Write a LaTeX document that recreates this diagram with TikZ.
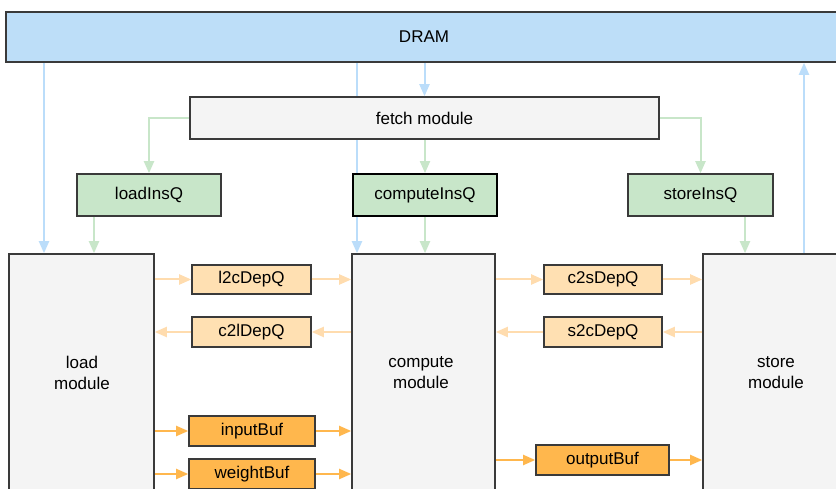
\documentclass[tikz,border=0pt]{standalone}
\usepackage{fontspec}
\setmainfont{Liberation Sans}
\usetikzlibrary{arrows.meta,backgrounds}

\definecolor{dramblue}{HTML}{BDDEF8}
\definecolor{bluearrow}{HTML}{BBDDFA}
\definecolor{insgreen}{HTML}{C8E6C9}
\definecolor{greenarrow}{HTML}{C8E6C9}
\definecolor{modgray}{HTML}{F4F4F4}
\definecolor{depfill}{HTML}{FFE0B2}
\definecolor{deparrow}{HTML}{FFDCAE}
\definecolor{buffill}{HTML}{FFB74D}
\definecolor{bufarrow}{HTML}{FFB74D}
\definecolor{edgegray}{HTML}{3A3A3A}

\begin{document}
\begin{tikzpicture}[x=1pt,y=-1pt,
  font=\fontsize{17}{21}\selectfont,
  box/.style={draw=edgegray, line width=1.6pt, inner sep=0pt, align=center},
  dram/.style={box, fill=dramblue},
  plainbox/.style={box, fill=modgray},
  insq/.style={box, fill=insgreen},
  depq/.style={box, fill=depfill},
  buf/.style={box, fill=buffill},
  conn/.style={line width=2pt, -{Triangle[length=12pt,width=10pt]}},
  bluearr/.style={conn, draw=bluearrow},
  greenarr/.style={conn, draw=greenarrow},
  deparr/.style={conn, draw=deparrow},
  bufarr/.style={conn, draw=bufarrow}]

\clip (0,0) rectangle (836,489);

% memory and fetch stage
\node[dram, minimum width=836pt, minimum height=50pt] (dram) at (424,37) {DRAM};
\node[plainbox, minimum width=469pt, minimum height=42pt] (fetch) at (424.5,118) {fetch module};

% instruction queues
\node[insq, minimum width=144pt, minimum height=42pt] (loadq) at (149,195) {loadInsQ};
\node[insq, draw=black, line width=1.8pt, minimum width=144pt, minimum height=42pt] (computeq) at (425,195) {computeInsQ};
\node[insq, minimum width=145pt, minimum height=42pt] (storeq) at (700.5,195) {storeInsQ};

% the three execution modules
\node[plainbox, minimum width=145pt, minimum height=270pt] (load) at (81.5,389) {};
\node[plainbox, minimum width=143pt, minimum height=270pt] (compute) at (423.5,389) {};
\node[plainbox, minimum width=145pt, minimum height=270pt] (store) at (775.5,389) {};
\node (loadtxt) at (82,373) [align=center] {load\\module};
\node (computetxt) at (421,373) [align=center] {compute\\module};
\node (storetxt) at (776,373) [align=center] {store\\module};

% dependency queues
\node[depq, minimum width=119pt, minimum height=29pt] (l2c) at (251.5,279.5) {l2cDepQ};
\node[depq, minimum width=119pt, minimum height=30pt] (c2l) at (251.5,332) {c2lDepQ};
\node[depq, minimum width=118pt, minimum height=29pt] (c2s) at (603,279.5) {c2sDepQ};
\node[depq, minimum width=118pt, minimum height=30pt] (s2c) at (603,332) {s2cDepQ};

% buffers
\node[buf, minimum width=126pt, minimum height=30pt] (inbuf) at (252,431) {inputBuf};
\node[buf, minimum width=126pt, minimum height=30pt] (wbuf) at (252,474) {weightBuf};
\node[buf, minimum width=133pt, minimum height=30pt] (outbuf) at (602.5,460) {outputBuf};

% x positions of the vertical data paths
\coordinate (xload) at (44,0);
\coordinate (xcomp) at (357,0);
\coordinate (xloadq) at (94,0);
\coordinate (xstoreq) at (745,0);
\coordinate (xstore) at (804,0);

% white page, and DRAM to compute passing behind fetch and computeInsQ
\begin{scope}[on background layer]
  \fill[white] (0,0) rectangle (836,489);
  \draw[bluearr] (dram.south -| xcomp) -- (compute.north -| xcomp);
\end{scope}

% DRAM traffic
\draw[bluearr] (dram.south -| xload) -- (load.north -| xload);
\draw[bluearr] (fetch.north |- dram.south) -- (fetch.north);
\draw[bluearr] (store.north -| xstore) -- (dram.south -| xstore);

% instruction dispatch
\draw[greenarr] (fetch.west) -| (loadq.north);
\draw[greenarr] (fetch.east) -| (storeq.north);
\draw[greenarr] (computeq.north |- fetch.south) -- (computeq.north);
\draw[greenarr] (loadq.south -| xloadq) -- (load.north -| xloadq);
\draw[greenarr] (computeq.south) -- (computeq.south |- compute.north);
\draw[greenarr] (storeq.south -| xstoreq) -- (store.north -| xstoreq);

% dependency tokens
\draw[deparr] (l2c.west -| load.east) -- (l2c.west);
\draw[deparr] (l2c.east) -- (l2c.east -| compute.west);
\draw[deparr] (c2l.east -| compute.west) -- (c2l.east);
\draw[deparr] (c2l.west) -- (c2l.west -| load.east);
\draw[deparr] (c2s.west -| compute.east) -- (c2s.west);
\draw[deparr] (c2s.east) -- (c2s.east -| store.west);
\draw[deparr] (s2c.east -| store.west) -- (s2c.east);
\draw[deparr] (s2c.west) -- (s2c.west -| compute.east);

% data buffers
\draw[bufarr] (inbuf.west -| load.east) -- (inbuf.west);
\draw[bufarr] (inbuf.east) -- (inbuf.east -| compute.west);
\draw[bufarr] (wbuf.west -| load.east) -- (wbuf.west);
\draw[bufarr] (wbuf.east) -- (wbuf.east -| compute.west);
\draw[bufarr] (outbuf.west -| compute.east) -- (outbuf.west);
\draw[bufarr] (outbuf.east) -- (outbuf.east -| store.west);
\end{tikzpicture}
\end{document}
